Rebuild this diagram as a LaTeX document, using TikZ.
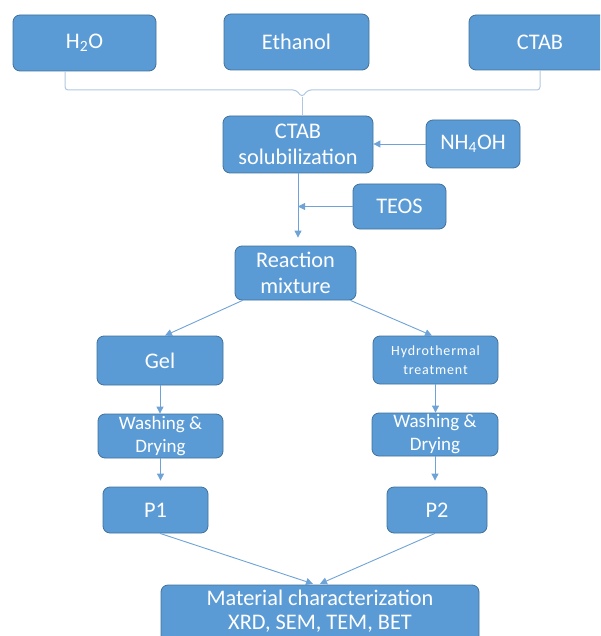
\documentclass[tikz,border=0pt]{standalone}
\usepackage{fontspec}
\setmainfont{Carlito}
\usetikzlibrary{arrows.meta,calc}
\definecolor{boxfill}{HTML}{5B9BD5}
\definecolor{boxdraw}{HTML}{41719C}
\definecolor{connc}{HTML}{6FA3D8}
\definecolor{brkc}{HTML}{AFC7E2}
\begin{document}
\begin{tikzpicture}[x=1pt,y=-1pt,
  box/.style={draw=boxdraw, line width=0.8pt, fill=boxfill, rounded corners=7pt,
    text=white, font=\fontsize{22.3}{26}\selectfont, align=center, inner sep=0pt},
  washbox/.style={box, font=\fontsize{19}{23}\selectfont},
  hydbox/.style={box, font=\fontsize{14}{19}\selectfont\addfontfeature{LetterSpace=6}},
  mattext/.style={text=white, font=\fontsize{22.3}{24.5}\selectfont, align=center, inner sep=0pt},
  conn/.style={draw=connc, line width=0.9pt, -{Triangle[width=7pt,length=7pt]}},
  brkline/.style={draw=brkc, line width=1pt, rounded corners=3pt}]
\useasboundingbox (0,0) rectangle (600,636);
\begin{scope}
\clip (0,0) rectangle (600,636);
\node[box, minimum width=143pt, minimum height=56pt] (h2o) at (84.5,43) {H\textsubscript{2}O};
\node[box, minimum width=145pt, minimum height=56pt] (eth) at (296.5,42) {Ethanol};
\node[box, minimum width=142pt, minimum height=55pt] (ctab) at (540,42.5) {CTAB};
\node[box, minimum width=150pt, minimum height=57pt] (sol) at (298,144.5) {CTAB\\solubilization};
\node[box, minimum width=94pt, minimum height=48pt] (nh4) at (473,144) {NH\textsubscript{4}OH};
\node[box, minimum width=93pt, minimum height=45pt] (teos) at (399.5,206.5) {TEOS};
\node[box, minimum width=121pt, minimum height=54pt] (rm) at (295.5,273) {Reaction\\mixture};
\node[box, minimum width=126pt, minimum height=49pt] (gel) at (160,360.5) {Gel};
\node[hydbox, minimum width=125pt, minimum height=48pt] (hyd) at (435.5,360) {Hydrothermal\\treatment};
\node[washbox, minimum width=125pt, minimum height=44pt] (wl) at (160.5,436) {Washing \&\\Drying};
\node[washbox, minimum width=126pt, minimum height=43pt] (wr) at (435,434.5) {Washing \&\\Drying};
\node[box, minimum width=105pt, minimum height=46pt] (p1) at (155.5,510) {P1};
\node[box, minimum width=100pt, minimum height=46pt] (p2) at (437,510) {P2};
% material box: runs past the bottom edge
\draw[draw=boxdraw, fill=boxfill, line width=0.8pt, rounded corners=7pt]
  (161,660) -- (161,585) -- (479,585) -- (479,660);
\node[mattext, minimum width=318pt, minimum height=52pt] (mat) at (320,611) {Material characterization\\XRD, SEM, TEM, BET};
% bracket
\coordinate (bl) at ($(h2o.south)+(-19.5,0)$);
\coordinate (br) at (ctab.south);
\coordinate (bt) at (302,97);
\draw[brkline] (bl) -- (65,90) -- (296,90) -- (bt) -- (308,90) -- (540,90) -- (br);
\draw[brkline] (bt) -- (bt |- sol.north);
% connectors
\draw[conn] (nh4.west) -- (nh4.west -| sol.east);
\draw[conn] (teos.west) -- (teos.west -| sol.south);
\draw[conn, shorten >=8pt] (sol.south) -- (sol.south |- rm.north);
\draw[conn] ([xshift=8pt]rm.south west) -- ([xshift=5pt]gel.north);
\draw[conn] ([xshift=-6pt]rm.south east) -- ([xshift=-3.5pt]hyd.north);
\draw[conn] (gel.south) -- (gel.south |- wl.north);
\draw[conn] (hyd.south) -- (hyd.south |- wr.north);
\draw[conn, shorten >=6pt] (wl.south) -- (wl.south |- p1.north);
\draw[conn, shorten >=6pt] (wr.south) -- (wr.south |- p2.north);
\draw[conn] ([xshift=4.5pt]p1.south) -- ([xshift=-7pt,yshift=1pt]mat.north);
\draw[conn] ([xshift=-2pt]p2.south) -- ([xshift=0pt,yshift=1pt]mat.north);
\end{scope}
\end{tikzpicture}
\end{document}
